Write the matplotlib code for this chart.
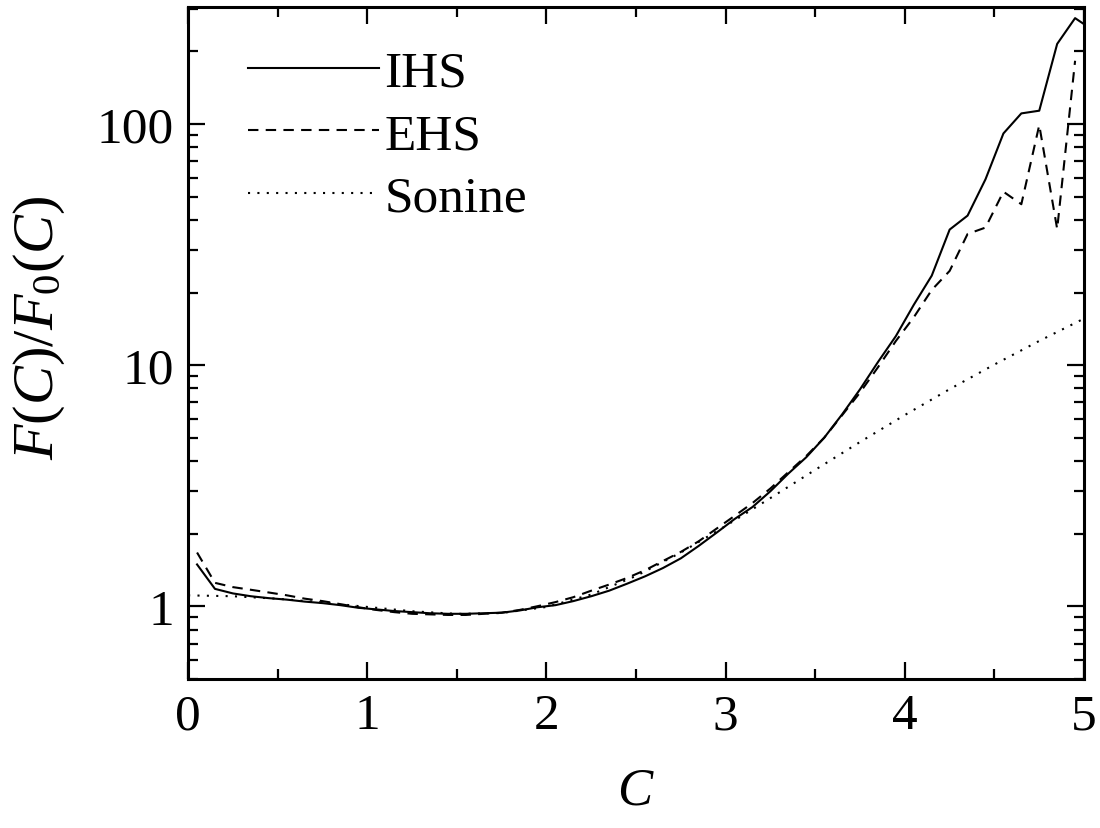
import matplotlib
matplotlib.use("Agg")
import matplotlib.pyplot as plt
from matplotlib.ticker import MultipleLocator, LogLocator, FixedLocator, NullFormatter

plt.rcParams['font.family'] = ['Liberation Serif', 'DejaVu Serif']
plt.rcParams['mathtext.fontset'] = 'custom'
plt.rcParams['mathtext.rm'] = 'Liberation Serif'
plt.rcParams['mathtext.it'] = 'Liberation Serif:italic'

c_bins = [0.05, 0.15, 0.25, 0.35, 0.45, 0.55, 0.65, 0.75, 0.85, 0.95,
          1.05, 1.15, 1.25, 1.35, 1.45, 1.55, 1.65, 1.75, 1.85, 1.95,
          2.05, 2.15, 2.25, 2.35, 2.45, 2.55, 2.65, 2.75, 2.85, 2.95,
          3.05, 3.15, 3.25, 3.35, 3.45, 3.55, 3.65, 3.75, 3.85, 3.95,
          4.05, 4.15, 4.25, 4.35, 4.45, 4.55, 4.65, 4.75, 4.85, 4.95]

ihs = [1.49, 1.18, 1.13, 1.10, 1.08, 1.065, 1.045, 1.03, 1.01, 0.985,
       0.97, 0.955, 0.945, 0.935, 0.93, 0.93, 0.935, 0.94, 0.96, 0.99,
       1.01, 1.05, 1.10, 1.16, 1.24, 1.33, 1.44, 1.58, 1.78, 2.02,
       2.30, 2.58, 3.00, 3.55, 4.15, 5.00, 6.25, 7.94, 10.3, 13.2,
       17.8, 23.5, 36.5, 41.7, 59.0, 91.4, 110.7, 113.6, 215.0, 275.0]
ihs_c_end = 5.05
ihs_end = 245.0

ehs = [1.67, 1.25, 1.20, 1.17, 1.14, 1.11, 1.075, 1.05, 1.02, 0.99,
       0.965, 0.945, 0.93, 0.925, 0.92, 0.92, 0.93, 0.94, 0.965, 1.0,
       1.04, 1.09, 1.16, 1.23, 1.31, 1.41, 1.54, 1.68, 1.86, 2.10,
       2.37, 2.68, 3.08, 3.60, 4.20, 5.00, 6.20, 7.70, 9.8, 12.6,
       15.8, 20.5, 24.6, 35.0, 37.2, 52.4, 46.5, 99.0, 36.7, 183.0]

c_sonine = [0.0, 0.25, 0.5, 0.75, 1.0, 1.25, 1.5, 1.75, 2.0, 2.25, 2.5,
            2.75, 3.0, 3.25, 3.5, 3.75, 4.0, 4.25, 4.5, 4.75, 5.0]
sonine = [1.109, 1.100, 1.074, 1.036, 0.993, 0.953, 0.929, 0.937, 0.993, 1.118, 1.335,
          1.67, 2.153, 2.81, 3.68, 4.80, 6.21, 7.95, 10.06, 12.6, 15.6]

fig = plt.figure(figsize=(11, 8.29), dpi=100)
ax = fig.add_axes([0.171, 0.180, 0.8145, 0.810])

ax.plot(c_bins + [ihs_c_end], ihs + [ihs_end], color='black', lw=1.5, linestyle='-', label='IHS')
ax.plot(c_bins, ehs, color='black', lw=1.5, linestyle=(0, (5, 3.5)), label='EHS')
ax.plot(c_sonine, sonine, color='black', lw=1.5, linestyle=(0, (1, 3.5)), label='Sonine')

ax.set_yscale('log')
ax.set_xlim(0, 5)
ax.set_ylim(0.5, 305)

ax.xaxis.set_major_locator(MultipleLocator(1))
ax.xaxis.set_minor_locator(MultipleLocator(0.5))
ax.yaxis.set_major_locator(FixedLocator([1, 10, 100]))
ax.yaxis.set_minor_locator(LogLocator(base=10, subs=range(2, 10)))
ax.yaxis.set_minor_formatter(NullFormatter())
ax.set_yticklabels(['1', '10', '100'])

ax.tick_params(which='both', direction='in', top=True, right=True, width=1.6, labelsize=37)
ax.tick_params(which='major', length=12, pad=10)
ax.tick_params(which='minor', length=7)
for s in ax.spines.values():
    s.set_linewidth(2.2)

ax.set_xlabel('$C$', fontsize=38, labelpad=20)
ax.set_ylabel('$F(C)/F_0(C)$', fontsize=42)
ax.yaxis.set_label_coords(-0.135, 0.525)

leg = ax.legend(loc='upper left', frameon=False, fontsize=37, handlelength=2.55,
                handletextpad=0.1, labelspacing=0.3, borderaxespad=0.0,
                bbox_to_anchor=(0.044, 0.967))

fig.savefig('out.png', dpi=100)
